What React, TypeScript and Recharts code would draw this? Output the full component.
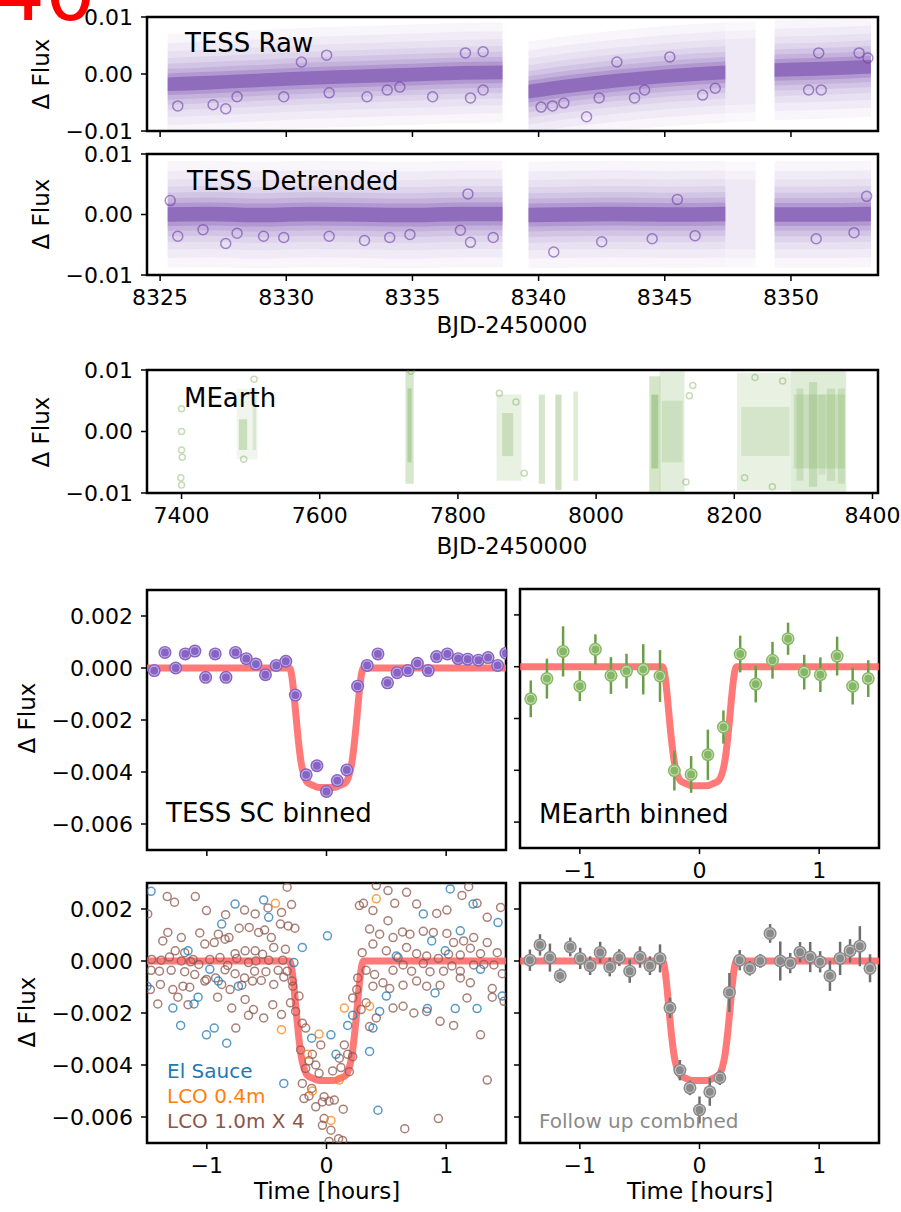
import React from 'react';
import { ComposedChart, Scatter, Line, Area, XAxis, YAxis, ReferenceArea, ErrorBar } from 'recharts';

const FONT = '"DejaVu Sans", sans-serif';
const MINUS = '\u2212';

// ---------- TESS light curves (dense band: centre of the point cloud per segment) ----------
const seg1T = [8325.3, 8327, 8329, 8331, 8333, 8335, 8337, 8338.57];
const seg1Raw = [-0.0018, -0.0015, -0.0011, -0.0007, -0.0004, -0.0001, 0.0002, 0.0003];
const seg1Det = [0.0, 0.0001, -0.0001, 0.0001, 0.0, -0.0001, 0.0001, 0.0001];
const seg2T = [8339.6, 8341, 8343, 8345, 8347.4];
const seg2Raw = [-0.0031, -0.0022, -0.0012, -0.0004, 0.0003];
const seg2Det = [-0.0001, 0.0, 0.0001, 0.0, 0.0001];
const sparseT = [8347.4, 8348.6];
const sparseRaw = [0.0003, 0.0005];
const sparseDet = [0.0, 0.0];
const seg3T = [8349.35, 8351, 8353.17];
const seg3Raw = [0.0007, 0.0009, 0.0013];
const seg3Det = [0.0, 0.0, 0.0001];
// half widths of the cloud's density layers (outermost first)
const cloudHalf = [0.0088, 0.0072, 0.0058, 0.0046, 0.0036, 0.0027, 0.0019, 0.0012];
const cloudDensity = [0.05, 0.05, 0.06, 0.08, 0.1, 0.14, 0.22, 0.5];

// larger open circles visible in the clouds
const rawRingT = [8325.7, 8327.1, 8327.6, 8328.05, 8329.9, 8331.7, 8333.2, 8334.0, 8334.5, 8335.8, 8330.6, 8331.6, 8340.1, 8340.55, 8341.0, 8341.9, 8342.4, 8343.8, 8344.2, 8346.5, 8347.0, 8337.1, 8337.8, 8337.3, 8337.8, 8350.7, 8351.2, 8351.1, 8352.7, 8353.05, 8343.1, 8345.2];
const rawRingF = [-0.0056, -0.0054, -0.0061, -0.004, -0.004, -0.0033, -0.004, -0.0028, -0.0023, -0.004, 0.0021, 0.0033, -0.0058, -0.0056, -0.0051, -0.0075, -0.0042, -0.0042, -0.0028, -0.0037, -0.0025, 0.0037, 0.0039, -0.0042, -0.0028, -0.0028, -0.0028, 0.0037, 0.0037, 0.0028, 0.0021, 0.003];
const detRingT = [8325.7, 8326.7, 8327.6, 8328.05, 8329.1, 8329.9, 8331.7, 8333.1, 8334.1, 8334.9, 8336.9, 8337.3, 8338.2, 8337.2, 8325.4, 8340.6, 8342.5, 8344.5, 8346.2, 8351, 8352.5, 8353, 8345.5];
const detRingF = [-0.0036, -0.0025, -0.0048, -0.0031, -0.0036, -0.0038, -0.0036, -0.0043, -0.0038, -0.0033, -0.0026, -0.0046, -0.0038, 0.0034, 0.0023, -0.0062, -0.0045, -0.004, -0.0035, -0.004, -0.003, 0.003, 0.0025];

// ---------- MEarth long baseline (observing clusters) ----------
const mStripX1 = [7480, 7483, 7503, 7724, 7727, 7856, 7864, 7917, 7941, 7967, 8077, 8080, 8092, 8095, 8204, 8210, 8282, 8286, 8290, 8308, 8322, 8334, 8350];
const mStripX2 = [7510, 7495, 7508, 7736, 7733, 7892, 7880, 7926, 7950, 7974, 8093, 8090, 8128, 8125, 8282, 8280, 8362, 8360, 8300, 8320, 8332, 8346, 8360];
const mStripLo = [-0.0045, -0.003, -0.003, -0.0085, -0.005, -0.008, -0.004, -0.0085, -0.0095, -0.008, -0.0098, -0.006, -0.0098, -0.005, -0.0095, -0.004, -0.0099, -0.006, -0.008, -0.009, -0.007, -0.008, -0.0085];
const mStripHi = [0.007, 0.002, 0.006, 0.0098, 0.007, 0.006, 0.003, 0.006, 0.006, 0.0065, 0.009, 0.006, 0.0098, 0.005, 0.0095, 0.004, 0.0099, 0.006, 0.007, 0.008, 0.006, 0.007, 0.007];
const mStripDensity = [0.1, 0.3, 0.18, 0.28, 0.35, 0.16, 0.25, 0.28, 0.35, 0.22, 0.3, 0.4, 0.2, 0.2, 0.16, 0.16, 0.22, 0.2, 0.2, 0.25, 0.15, 0.2, 0.2];
const mDotT = [7400, 7400, 7400, 7401, 7399, 7400, 7860, 7884, 7896, 8135, 8140, 8130, 7732, 7505, 7490, 8230, 8255, 8270, 8215];
const mDotF = [0.0037, 0.0, -0.003, -0.0042, -0.0075, -0.0087, 0.0062, 0.0048, -0.0068, 0.0058, 0.0075, -0.0082, 0.0098, 0.0085, -0.0045, 0.0088, -0.009, 0.0082, -0.0075];

// ---------- transit model (hours, flux) ----------
const modelT = [-1.5, -0.31, -0.29, -0.27, -0.25, -0.23, -0.21, -0.19, -0.16, -0.12, -0.06, 0, 0.06, 0.12, 0.16, 0.19, 0.21, 0.23, 0.25, 0.27, 0.29, 0.31, 1.5];
const modelF = [0, 0, -0.0003, -0.0011, -0.0021, -0.003, -0.0037, -0.0041, -0.0044, -0.0045, -0.0046, -0.0046, -0.0046, -0.0045, -0.0044, -0.0041, -0.0037, -0.003, -0.0021, -0.0011, -0.0003, 0, 0];

// ---------- TESS SC binned ----------
const tessBinT = [-1.44, -1.35, -1.26, -1.18, -1.1, -1.01, -0.93, -0.84, -0.76, -0.67, -0.59, -0.51, -0.42, -0.34, -0.26, -0.17, -0.08, 0.0, 0.09, 0.17, 0.26, 0.34, 0.43, 0.51, 0.59, 0.68, 0.76, 0.85, 0.92, 1.01, 1.1, 1.18, 1.27, 1.35, 1.43, 1.5];
const tessBinF = [-0.0001, 0.0006, 0.0, 0.00054, 0.00065, -0.00036, 0.00054, -0.00036, 0.0006, 0.00036, 0.00015, -0.00026, 0.0001, 0.00026, -0.00104, -0.00411, -0.00376, -0.00475, -0.00433, -0.00392, -0.0007, 0.0001, 0.00054, -0.00057, -0.00018, -0.0001, 0.00018, -0.0001, 0.00044, 0.00054, 0.00036, 0.00034, 0.0003, 0.0004, 0.0001, 0.00057];
const tessBinE = [0.00015, 0.00015, 0.00015, 0.00015, 0.00018, 0.00015, 0.00015, 0.00015, 0.00015, 0.00015, 0.00015, 0.00015, 0.00015, 0.00015, 0.00018, 0.00015, 0.00015, 0.00015, 0.00015, 0.00015, 0.00018, 0.00015, 0.00018, 0.00015, 0.00015, 0.00015, 0.00015, 0.00015, 0.00015, 0.00015, 0.00015, 0.00015, 0.00015, 0.00015, 0.00015, 0.00015];

// ---------- MEarth binned ----------
const mBinT = [-1.41, -1.275, -1.14, -1.0, -0.87, -0.74, -0.61, -0.47, -0.33, -0.21, -0.07, 0.07, 0.2, 0.34, 0.47, 0.61, 0.74, 0.875, 1.01, 1.15, 1.28, 1.41];
const mBinF = [-0.00124, -0.00046, 0.00059, -0.00075, 0.00067, -0.00034, -0.00017, -0.0001, -0.00036, -0.00401, -0.00416, -0.0034, -0.00233, 0.00049, -0.00067, 0.00025, 0.00108, -0.00021, -0.00031, 0.00041, -0.00075, -0.00046];
const mBinE = [0.00071, 0.00077, 0.00097, 0.00058, 0.00058, 0.00071, 0.00067, 0.00097, 0.001, 0.00077, 0.00071, 0.00097, 0.00064, 0.00071, 0.00071, 0.00071, 0.00062, 0.00067, 0.00067, 0.00075, 0.00071, 0.00071];

// ---------- follow up combined ----------
const fuBinT = [-1.417, -1.333, -1.25, -1.164, -1.08, -0.997, -0.914, -0.83, -0.75, -0.67, -0.583, -0.497, -0.414, -0.33, -0.247, -0.164, -0.08, 0.0, 0.086, 0.17, 0.25, 0.336, 0.42, 0.508, 0.59, 0.675, 0.758, 0.84, 0.925, 1.008, 1.09, 1.175, 1.258, 1.34, 1.425];
const fuBinF = [0.00003, 0.00062, 0.00013, -0.00057, 0.00054, 0.0001, -0.00018, 0.00033, -0.00023, 0.00013, -0.00039, 0.00015, -0.00018, 0.0001, -0.0018, -0.0042, -0.00488, -0.00573, -0.00503, -0.00449, -0.00121, 0.00003, -0.00028, 0.0, 0.00106, 0.0, -0.00008, 0.00034, 0.00015, -0.00003, -0.00057, 0.0001, 0.00039, 0.00057, -0.00028];
const fuBinE = [0.00041, 0.00041, 0.00054, 0.00028, 0.00036, 0.00041, 0.00036, 0.00041, 0.00036, 0.00032, 0.00045, 0.00041, 0.00036, 0.00054, 0.00039, 0.00039, 0.00028, 0.00052, 0.00054, 0.00028, 0.00075, 0.00039, 0.00028, 0.00026, 0.00036, 0.00075, 0.00039, 0.00039, 0.00058, 0.00041, 0.00058, 0.00064, 0.00045, 0.00077, 0.00054];

// ---------- individual follow up points (hours, flux) ----------
const elSauce = [
  [-1.466, 0.00268], [-0.764, 0.00219], [-0.525, 0.00235], [-0.483, 0.00168], [-0.876, 0.00142], [-1.157, 0.00039], [-0.975, -0.00032],
  [-1.284, -0.00181], [-1.219, -0.00248], [-1.003, -0.00284], [-0.938, -0.00258], [-0.834, -0.00316], [-1.107, -0.00165], [-1.073, -0.00139],
  [-0.904, -0.00077], [-0.736, -0.00097], [-0.202, 0.00052], [-0.272, -0.00006], [0.008, 0.00097], [0.037, -0.00284], [-0.124, -0.00297],
  [0.079, -0.00359], [0.177, -0.00248], [0.219, -0.00209], [0.36, -0.00348], [0.388, -0.00258], [0.5, -0.00135], [0.584, 0.00019],
  [0.809, 0.00181], [0.879, 0.00077], [1.034, 0.00277], [1.118, 0.00116], [1.225, 0.00219], [1.287, -0.00032], [0.907, -0.00123],
  [0.843, -0.00183], [0.992, 0.00039], [1.076, -0.00183], [1.258, -0.00183], [1.433, 0.00148], [1.469, -0.00135], [-0.357, -0.00471],
  [0.444, -0.00194], [-1.5, -0.00097], [0.43, -0.00574],
];
const lco04 = [
  [-0.427, 0.00222], [-0.376, -0.00264], [-0.062, -0.00281], [-0.16, -0.00359], [-0.118, -0.005], [0.149, -0.00181], [0.416, 0.00239],
  [0.36, -0.00174], [0.107, -0.00458], [0.037, -0.00613],
];
const lco10 = [
  [-1.494, 0.00181], [-1.331, 0.00248], [-1.27, 0.00226], [-1.096, 0.00248], [-1.003, 0.00194], [-0.843, 0.00178], [-0.685, 0.00196],
  [-0.596, 0.00181], [-0.489, 0.00204], [-0.376, 0.00187], [-0.292, 0.00217], [-0.329, 0.00284], [-1.326, 0.0011], [-1.213, 0.0009],
  [-1.059, 0.00108], [-0.904, 0.00103], [-0.815, 0.0009], [-0.73, 0.00126], [-0.646, 0.00129], [-0.567, 0.0011], [-0.517, 0.00119],
  [-0.461, 0.0009], [-0.385, 0.00142], [-0.32, 0.00135], [-0.264, 0.00126], [-1.368, 0.00077], [-1.264, 0.00039], [-1.185, 0.00032],
  [-1.115, 0.00006], [-1.017, 0.00065], [-0.938, 0.00071], [-0.848, 0.00084], [-0.764, 0.00028], [-0.68, 0.00039], [-0.596, 0.00039],
  [-0.534, 0.00026], [-0.441, 0.00052], [-0.343, 0.00045], [-1.461, 0.00006], [-1.382, 0.00003], [-1.312, 0.00015], [-1.213, 0.0],
  [-1.135, -0.00003], [-1.067, -0.00013], [-0.975, 0.00006], [-0.89, 0.00013], [-0.826, -0.00017], [-0.75, 0.0001], [-0.652, -0.00006],
  [-0.59, 0.0], [-0.483, 0.00003], [-0.365, 0.00003], [-1.466, -0.00036], [-1.396, -0.00039], [-1.298, -0.00036], [-1.185, -0.00041],
  [-1.101, -0.00052], [-1.003, -0.00071], [-0.927, -0.00065], [-0.848, -0.00034], [-0.764, -0.00049], [-0.685, -0.00065], [-0.601, -0.00039],
  [-0.506, -0.00041], [-0.404, -0.00036], [-0.329, -0.00039], [-1.472, -0.0011], [-1.388, -0.0009], [-1.284, -0.0011], [-1.199, -0.00097],
  [-1.143, -0.00101], [-1.017, -0.00077], [-0.876, -0.0009], [-0.806, -0.0011], [-0.708, -0.00093], [-0.618, -0.00077], [-0.545, -0.00075],
  [-0.441, -0.0009], [-0.357, -0.00062], [-1.242, -0.00139], [-1.157, -0.00168], [-0.91, -0.00139], [-0.792, -0.00181], [-0.68, -0.00148],
  [-0.61, -0.00187], [-0.525, -0.00219], [-0.449, -0.00168], [-0.376, -0.00206], [-0.301, -0.00161], [-0.758, -0.00258], [-0.652, -0.00209],
  [-1.41, -0.00165],
  [-0.287, -0.00077], [-0.281, -0.00097], [-0.23, -0.00135], [-0.258, -0.00194], [-0.202, -0.00239], [-0.174, -0.00258], [-0.216, -0.00342],
  [-0.118, -0.00359], [-0.048, -0.00323], [-0.146, -0.00384], [-0.09, -0.004], [-0.174, -0.00413], [-0.202, -0.00471], [-0.124, -0.0049],
  [-0.062, -0.00432], [-0.02, -0.00522], [-0.146, -0.00519], [-0.188, -0.00529], [-0.09, -0.00561], [-0.034, -0.00542], [0.022, -0.00539],
  [0.065, -0.00535], [-0.02, -0.00606], [-0.034, -0.00632], [0.037, -0.00651], [0.101, -0.00684], [0.135, -0.0069], [0.022, -0.00694],
  [0.14, -0.0057], [0.051, -0.00423], [0.107, -0.00374], [0.149, -0.00323], [0.177, -0.00359], [0.121, -0.0041], [0.191, -0.00426],
  [0.219, -0.00368], [0.261, -0.00065], [0.219, -0.00142], [0.253, -0.0011], [0.275, 0.00213],
  [0.309, 0.00222], [0.388, 0.00194], [0.514, 0.00155], [0.57, 0.00222], [0.669, 0.00264], [0.753, 0.00219], [0.921, 0.00183],
  [1.006, 0.00196], [1.132, 0.00252], [1.188, 0.00286], [1.258, 0.00222], [1.343, 0.00168], [1.455, 0.00206], [0.416, 0.0029],
  [0.514, 0.00271], [0.36, 0.00123], [0.444, 0.00103], [0.556, 0.0009], [0.635, 0.00112], [0.697, 0.00103], [0.809, 0.00114],
  [0.893, 0.0011], [1.006, 0.00106], [1.062, 0.00071], [1.146, 0.00077], [1.23, 0.0009], [1.343, 0.00071], [1.427, 0.00032],
  [0.298, 0.00032], [0.388, 0.00065], [0.5, 0.00039], [0.598, 0.00013], [0.669, 0.00052], [0.753, 0.00028], [0.837, 0.00019],
  [0.935, 0.0001], [1.02, 0.00026], [1.118, 0.00023], [1.202, 0.00049], [1.287, 0.00028], [1.399, -0.00015], [0.331, -0.00036],
  [0.402, -0.00052], [0.472, -0.00084], [0.556, -0.00036], [0.64, -0.00015], [0.711, -0.00039], [0.809, -0.0001], [0.865, -0.00041],
  [0.978, -0.00039], [1.048, -0.00019], [1.118, -0.00039], [1.23, -0.00015], [1.315, -0.00013], [1.469, -0.00049], [0.388, -0.00097],
  [0.528, -0.00106], [0.64, -0.00093], [0.753, -0.00077], [0.837, -0.00097], [0.949, -0.00093], [1.118, -0.00065], [1.202, -0.00084],
  [1.385, -0.00106], [1.483, -0.00155], [0.331, -0.00161], [0.416, -0.00219], [0.556, -0.00181], [0.64, -0.00174], [0.73, -0.002],
  [0.837, -0.00194], [0.949, -0.00232], [1.062, -0.00248], [1.174, -0.00142], [1.287, -0.00284], [1.385, -0.00139], [1.343, -0.00458],
  [0.935, -0.00606], [0.654, -0.00645], [0.289, -0.00187], [0.36, -0.00252],
];

// ---------- axes ----------
const tessTicks = [8325, 8330, 8335, 8340, 8345, 8350];
const tessDomain: [number, number] = [8324.48, 8353.45];
const lcTicksY = [-0.01, 0, 0.01];
const lcDomainY: [number, number] = [-0.01, 0.01];
const mearthTicks = [7400, 7600, 7800, 8000, 8200, 8400];
const mearthDomain: [number, number] = [7350, 8408];
const hourTicks = [-1, 0, 1];
const hourDomain: [number, number] = [-1.5, 1.5];
const binTicksY = [-0.006, -0.004, -0.002, 0, 0.002];
const binDomainY: [number, number] = [-0.007, 0.003];

const PURPLE = '#6e3fa8';
const GREEN = '#6fa84a';
const RED = '#ff6262';

const fmt = (d: number) => (v: number) => (v < -1e-12 ? MINUS : '') + Math.abs(v).toFixed(d);
const blank = () => '';

const bandRows = (t: number[], c: number[]) =>
  t.map((x, i) => {
    const row: any = { x };
    cloudHalf.forEach((h, k) => { row['b' + k] = [c[i] - h, c[i] + h]; });
    return row;
  });

const zip = (t: number[], f: number[], e?: number[]) => t.map((x, i) => ({ x, y: f[i], e: e ? e[i] : 0 }));
const pairs = (p: number[][]) => p.map(([x, y]) => ({ x, y }));

const modelRows = zip(modelT, modelF);

const YW = 150;
const TM = 14;
const RM = 24;
const XH = 44;

type PanelProps = {
  fx: number; fy: number; fw: number; fh: number;
  xDomain: [number, number]; yDomain: [number, number];
  xTicks: number[]; yTicks: number[];
  xDec: number; yDec: number;
  xLabels: boolean; yLabels: boolean;
  children?: React.ReactNode;
};

function Panel(p: PanelProps) {
  const tickStyle = { fill: '#000', fontSize: 22, fontFamily: FONT };
  return (
    <div style={{ position: 'absolute', left: p.fx - YW, top: p.fy - TM }}>
      <ComposedChart width={YW + p.fw + RM} height={TM + p.fh + XH} margin={{ top: TM, right: RM, bottom: 0, left: 0 }}>
        <XAxis type="number" dataKey="x" domain={p.xDomain} ticks={p.xTicks} allowDataOverflow interval={0}
          height={XH} tickSize={6} tickMargin={8} axisLine={false}
          tickLine={{ stroke: '#000', strokeWidth: 1.5 }} tick={tickStyle}
          tickFormatter={p.xLabels ? fmt(p.xDec) : blank} />
        <YAxis type="number" dataKey="y" domain={p.yDomain} ticks={p.yTicks} allowDataOverflow interval={0}
          width={YW} tickSize={6} tickMargin={8} axisLine={false}
          tickLine={{ stroke: '#000', strokeWidth: 1.5 }} tick={tickStyle}
          tickFormatter={p.yLabels ? fmt(p.yDec) : blank} />
        {p.children}
        <ReferenceArea x1={p.xDomain[0]} x2={p.xDomain[1]} y1={p.yDomain[0]} y2={p.yDomain[1]}
          fill="none" fillOpacity={0} stroke="#000" strokeWidth={2.5} ifOverflow="visible" />
      </ComposedChart>
    </div>
  );
}

const bandLayers = (key: string, rows: any[], sparse: boolean) =>
  cloudHalf
    .map((_, k) => k)
    .filter((k) => !sparse || k < 3)
    .map((k) => (
      <Area key={key + k} data={rows} dataKey={'b' + k} type="monotone" stroke="none"
        fill={PURPLE} fillOpacity={sparse ? cloudDensity[k] * 0.7 : cloudDensity[k]}
        isAnimationActive={false} dot={false} activeDot={false} />
    ));

const ring = (color: string, r: number, op: number) => (props: any) =>
  <circle cx={props.cx} cy={props.cy} r={r} fill="none" stroke={color} strokeOpacity={op} strokeWidth={1.5} />;

const binDot = (fill: string, inner: string) => (props: any) => (
  <g>
    <circle cx={props.cx} cy={props.cy} r={6.5} fill={fill} />
    <circle cx={props.cx} cy={props.cy} r={4.5} fill="none" stroke={inner} strokeWidth={1.2} />
  </g>
);

const modelLine = (
  <Line key="model" data={modelRows} dataKey="y" type="monotone" stroke={RED} strokeOpacity={0.85}
    strokeWidth={7} dot={false} activeDot={false} isAnimationActive={false} />
);

export default function App() {
  const tessPanel = (raw: boolean, fy: number, fh: number) => {
    const layers = [
      ...bandLayers('s1', bandRows(seg1T, raw ? seg1Raw : seg1Det), false),
      ...bandLayers('s2', bandRows(seg2T, raw ? seg2Raw : seg2Det), false),
      ...bandLayers('sp', bandRows(sparseT, raw ? sparseRaw : sparseDet), true),
      ...bandLayers('s3', bandRows(seg3T, raw ? seg3Raw : seg3Det), false),
    ];
    return (
      <Panel fx={147} fy={fy} fw={731} fh={fh} xDomain={tessDomain} yDomain={lcDomainY}
        xTicks={tessTicks} yTicks={lcTicksY} xDec={0} yDec={2} xLabels={!raw} yLabels>
        {layers}
        <Scatter data={raw ? zip(rawRingT, rawRingF) : zip(detRingT, detRingF)} shape={ring(PURPLE, 5, 0.6)} isAnimationActive={false} />
      </Panel>
    );
  };

  return (
    <div style={{ position: 'relative', width: 901, height: 1212, background: '#fff', overflow: 'hidden' }}>
      <style>{'body{margin:0;}'}</style>

      {tessPanel(true, 17, 114)}
      {tessPanel(false, 154, 121)}

      <Panel fx={147} fy={370} fw={731} fh={123} xDomain={mearthDomain} yDomain={lcDomainY}
        xTicks={mearthTicks} yTicks={lcTicksY} xDec={0} yDec={2} xLabels yLabels>
        {mStripX1.map((x1, i) => (
          <ReferenceArea key={'st' + i} x1={x1} x2={mStripX2[i]} y1={mStripLo[i]} y2={mStripHi[i]}
            fill={GREEN} fillOpacity={mStripDensity[i]} stroke="none" ifOverflow="hidden" />
        ))}
        <Scatter data={zip(mDotT, mDotF)} shape={ring(GREEN, 3, 0.4)} isAnimationActive={false} />
      </Panel>

      <Panel fx={147} fy={590} fw={359} fh={260} xDomain={hourDomain} yDomain={binDomainY}
        xTicks={hourTicks} yTicks={binTicksY} xDec={0} yDec={3} xLabels={false} yLabels>
        {modelLine}
        <Scatter data={zip(tessBinT, tessBinF, tessBinE)} shape={binDot('#8763c3', '#c2aee6')} isAnimationActive={false}>
          <ErrorBar dataKey="e" direction="y" width={0} stroke="#6a3fa6" strokeWidth={2.5} />
        </Scatter>
      </Panel>

      <Panel fx={520} fy={589} fw={359} fh={259} xDomain={hourDomain} yDomain={binDomainY}
        xTicks={hourTicks} yTicks={binTicksY} xDec={0} yDec={3} xLabels yLabels={false}>
        {modelLine}
        <Scatter data={zip(mBinT, mBinF, mBinE)} shape={binDot('#86b766', '#c8e0b4')} isAnimationActive={false}>
          <ErrorBar dataKey="e" direction="y" width={0} stroke="#6a9f47" strokeWidth={2.5} />
        </Scatter>
      </Panel>

      <Panel fx={147} fy={883} fw={359} fh={260} xDomain={hourDomain} yDomain={binDomainY}
        xTicks={hourTicks} yTicks={binTicksY} xDec={0} yDec={3} xLabels yLabels>
        <Scatter data={pairs(lco10)} shape={ring('#8c564b', 4, 0.75)} isAnimationActive={false} />
        <Scatter data={pairs(elSauce)} shape={ring('#1f77b4', 4, 0.75)} isAnimationActive={false} />
        <Scatter data={pairs(lco04)} shape={ring('#ff7f0e', 4, 0.75)} isAnimationActive={false} />
        {modelLine}
      </Panel>

      <Panel fx={520} fy={883} fw={359} fh={260} xDomain={hourDomain} yDomain={binDomainY}
        xTicks={hourTicks} yTicks={binTicksY} xDec={0} yDec={3} xLabels yLabels={false}>
        {modelLine}
        <Scatter data={zip(fuBinT, fuBinF, fuBinE)} shape={binDot('#8a8a8a', '#c4c4c4')} isAnimationActive={false}>
          <ErrorBar dataKey="e" direction="y" width={0} stroke="#6e6e6e" strokeWidth={2.5} />
        </Scatter>
      </Panel>

      <svg width={901} height={1212} style={{ position: 'absolute', left: 0, top: 0, pointerEvents: 'none' }} fontFamily={FONT}>
        <text x={-6} y={20} fontSize={80} fill="#ff0000">40</text>

        <text x={185} y={52} fontSize={26} fill="#000">TESS Raw</text>
        <text x={187} y={190} fontSize={26} fill="#000">TESS Detrended</text>
        <text x={184} y={407} fontSize={26} fill="#000">MEarth</text>
        <text x={166} y={822} fontSize={26} fill="#000">TESS SC binned</text>
        <text x={539} y={823} fontSize={26} fill="#000">MEarth binned</text>
        <text x={539} y={1128} fontSize={20} fill="#8a8a8a">Follow up combined</text>

        <text x={167} y={1078} fontSize={20} fill="#1f77b4">El Sauce</text>
        <text x={167} y={1103} fontSize={20} fill="#ff7f0e">LCO 0.4m</text>
        <text x={167} y={1128} fontSize={20} fill="#8c564b">LCO 1.0m X 4</text>

        <text x={512} y={333} fontSize={23} textAnchor="middle" fill="#000">BJD-2450000</text>
        <text x={512} y={554} fontSize={23} textAnchor="middle" fill="#000">BJD-2450000</text>
        <text x={327} y={1199} fontSize={23} textAnchor="middle" fill="#000">Time [hours]</text>
        <text x={700} y={1199} fontSize={23} textAnchor="middle" fill="#000">Time [hours]</text>

        <text transform="translate(49,74) rotate(-90)" fontSize={23} textAnchor="middle" fill="#000">Δ Flux</text>
        <text transform="translate(49,214) rotate(-90)" fontSize={23} textAnchor="middle" fill="#000">Δ Flux</text>
        <text transform="translate(49,432) rotate(-90)" fontSize={23} textAnchor="middle" fill="#000">Δ Flux</text>
        <text transform="translate(35,718) rotate(-90)" fontSize={23} textAnchor="middle" fill="#000">Δ Flux</text>
        <text transform="translate(35,1012) rotate(-90)" fontSize={23} textAnchor="middle" fill="#000">Δ Flux</text>
      </svg>
    </div>
  );
}
